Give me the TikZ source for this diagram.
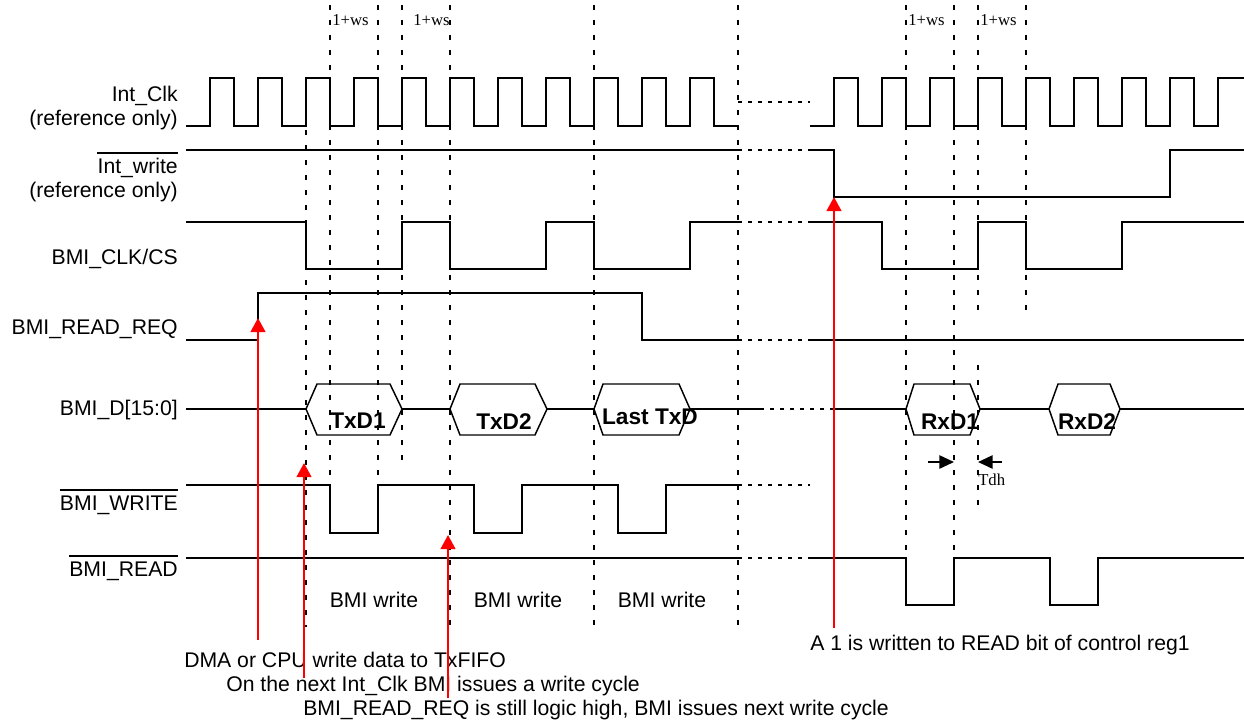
\documentclass[tikz,border=0pt]{standalone}
\usepackage{fontspec}
\setmainfont{Liberation Sans}
\newfontfamily\serifx{Liberation Serif}
\usetikzlibrary{arrows.meta}
\begin{document}
\begin{tikzpicture}[x=0.75pt,y=-0.75pt,
  sig/.style={line width=1.5pt, line join=miter},
  gridline/.style={line width=1.1pt, dash pattern=on 3.75pt off 7.5pt},
  brk/.style={line width=1.5pt, dash pattern=on 3pt off 4.5pt},
  hex/.style={line width=1.1pt, line join=miter},
  lbl/.style={anchor=base east, inner sep=0pt, font=\fontsize{15.9}{18}\selectfont},
  txt/.style={anchor=base west, inner sep=0pt, font=\fontsize{15.9}{18}\selectfont},
  cyc/.style={anchor=base, inner sep=0pt, font=\fontsize{15.9}{18}\selectfont},
  dat/.style={anchor=base, inner sep=0pt, font=\fontsize{17}{20}\selectfont\bfseries},
  ws/.style={anchor=base west, inner sep=0pt, font=\fontsize{12.5}{14}\selectfont\serifx},
  redarrow/.style={draw=red, line width=1.5pt, -{Triangle[length=10.5pt,width=11pt]}},
  tdharrow/.style={line width=1.2pt, -{Triangle[length=11pt,width=10pt]}},
  ovl/.style={line width=1.5pt},
]
\useasboundingbox (0,0) rectangle (1244,719);

% vertical dashed reference lines
\foreach \x/\a/\b in {306/130/627, 330/5/480, 378/5/480, 402/5/462, 450/5/627,
  594/5/627, 738/5/627, 906/5/555, 954/5/555, 978/5/318, 978/365/510, 1026/5/318}
  \draw[gridline] (\x,\a) -- (\x,\b);

% 1+ws labels
\node[ws] (ws1) at (332,25) {1+ws};
\node[ws] (ws2) at (413,25) {1+ws};
\node[ws] (ws3) at (908,25) {1+ws};
\node[ws] (ws4) at (980,25) {1+ws};

% signal labels
\node[lbl] (lclk) at (178,101) {Int\_Clk};
\node[lbl] (lclkr) at (178,125) {(reference only)};
\node[lbl] (lwr) at (178,173) {Int\_write};
\node[lbl] (lwrr) at (178,197) {(reference only)};
\node[lbl] (lcs) at (178,264) {BMI\_CLK/CS};
\node[lbl] (lreq) at (178,334) {BMI\_READ\_REQ};
\node[lbl] (ld) at (178,415) {BMI\_D[15:0]};
\node[lbl] (lbw) at (178,510) {BMI\_WRITE};
\node[lbl] (lbr) at (178,576) {BMI\_READ};
\draw[ovl] ([yshift=3pt]lwr.north west) -- ([yshift=3pt]lwr.north east);
\draw[ovl] ([yshift=3.5pt]lbw.north west) -- ([yshift=3.5pt]lbw.north east);
\draw[ovl] ([yshift=3.5pt]lbr.north west) -- ([yshift=3.5pt]lbr.north east);

% Int_Clk
\draw[sig] (186,126) \foreach \i in {0,...,10} { -- ({210+48*\i},126) -- ({210+48*\i},78) -- ({234+48*\i},78) -- ({234+48*\i},126) } -- (738,126);
\draw[brk] (738,102) -- (810,102);
\draw[sig] (810,126) \foreach \i in {0,...,7} { -- ({834+48*\i},126) -- ({834+48*\i},78) -- ({858+48*\i},78) -- ({858+48*\i},126) } -- (1218,126) -- (1218,78) -- (1244,78);

% Int_write
\draw[sig] (186,150) -- (738,150);
\draw[brk] (738,150) -- (810,150);
\draw[sig] (810,150) -- (834,150) -- (834,197) -- (1170,197) -- (1170,150) -- (1244,150);

% BMI_CLK/CS
\draw[sig] (186,222) -- (306,222) -- (306,269) -- (402,269) -- (402,222) -- (450,222) -- (450,269) -- (546,269) -- (546,222) -- (594,222) -- (594,269) -- (690,269) -- (690,222) -- (738,222);
\draw[brk] (738,222) -- (810,222);
\draw[sig] (810,222) -- (882,222) -- (882,269) -- (978,269) -- (978,222) -- (1026,222) -- (1026,269) -- (1122,269) -- (1122,222) -- (1244,222);

% BMI_READ_REQ
\draw[sig] (186,340) -- (258,340) -- (258,293) -- (642,293) -- (642,340) -- (738,340);
\draw[brk] (738,340) -- (810,340);
\draw[sig] (810,340) -- (1244,340);

% BMI_D[15:0]
\draw[sig] (186,409) -- (306,409);
\draw[hex] (306,409) -- (317,384) -- (390,384) -- (402,409) -- (390,435) -- (317,435) -- cycle;
\draw[sig] (402,409) -- (450,409);
\draw[hex] (450,409) -- (460,384) -- (535,384) -- (547,409) -- (535,435) -- (460,435) -- cycle;
\draw[sig] (547,409) -- (594,409);
\draw[hex] (594,409) -- (603,384) -- (679,384) -- (690,409) -- (679,435) -- (603,435) -- cycle;
\draw[sig] (690,409) -- (760,409);
\draw[brk] (760,409) -- (834,409);
\draw[sig] (834,409) -- (906,409);
\draw[hex] (906,409) -- (914,384) -- (970,384) -- (980,409) -- (970,435) -- (914,435) -- cycle;
\draw[sig] (980,409) -- (1049,409);
\draw[hex] (1049,409) -- (1058,384) -- (1110,384) -- (1120,409) -- (1110,435) -- (1058,435) -- cycle;
\draw[sig] (1120,409) -- (1244,409);
\node[dat] (d1) at (358,428) {TxD1};
\node[dat] (d2) at (504,429) {TxD2};
\node[dat] (d3) at (650,424) {Last TxD};
\node[dat] (d4) at (950,429) {RxD1};
\node[dat] (d5) at (1087,429) {RxD2};

% Tdh
\coordinate (ta0) at (928,462);
\coordinate (ta1) at (954,462);
\coordinate (tb0) at (1002,462);
\coordinate (tb1) at (978,462);
\draw[tdharrow] (ta0) -- (ta1);
\draw[tdharrow] (tb0) -- (tb1);
\node[ws] (tdh) at (978,485) {Tdh};

% BMI_WRITE
\draw[sig] (186,485) -- (330,485) -- (330,533) -- (378,533) -- (378,485) -- (474,485) -- (474,533) -- (522,533) -- (522,485) -- (618,485) -- (618,533) -- (666,533) -- (666,485) -- (738,485);
\draw[brk] (738,485) -- (810,485);

% BMI_READ
\draw[sig] (186,558) -- (738,558);
\draw[brk] (738,558) -- (810,558);
\draw[sig] (810,558) -- (906,558) -- (906,605) -- (954,605) -- (954,558) -- (1050,558) -- (1050,605) -- (1098,605) -- (1098,558) -- (1244,558);

% cycle labels
\node[cyc] (bw1) at (374,607) {BMI write};
\node[cyc] (bw2) at (518,607) {BMI write};
\node[cyc] (bw3) at (662,607) {BMI write};

% annotations
\node[txt] (n1) at (184,667) {DMA or CPU write data to TxFIFO};
\node[txt] (n2) at (226,691) {On the next Int\_Clk BMI issues a write cycle};
\node[txt] (n3) at (303,715) {BMI\_READ\_REQ is still logic high, BMI issues next write cycle};
\node[txt] (n4) at (810,650) {A 1 is written to READ bit of control reg1};

% red arrows
\coordinate (r1a) at (258,640); \coordinate (r1b) at (258,318);
\coordinate (r2a) at (304,678); \coordinate (r2b) at (304,463);
\coordinate (r3a) at (448,698); \coordinate (r3b) at (448,535);
\coordinate (r4a) at (834,628); \coordinate (r4b) at (834,197);
\draw[redarrow] (r1a) -- (r1b);
\draw[redarrow] (r2a) -- (r2b);
\draw[redarrow] (r3a) -- (r3b);
\draw[redarrow] (r4a) -- (r4b);
\end{tikzpicture}
\end{document}
